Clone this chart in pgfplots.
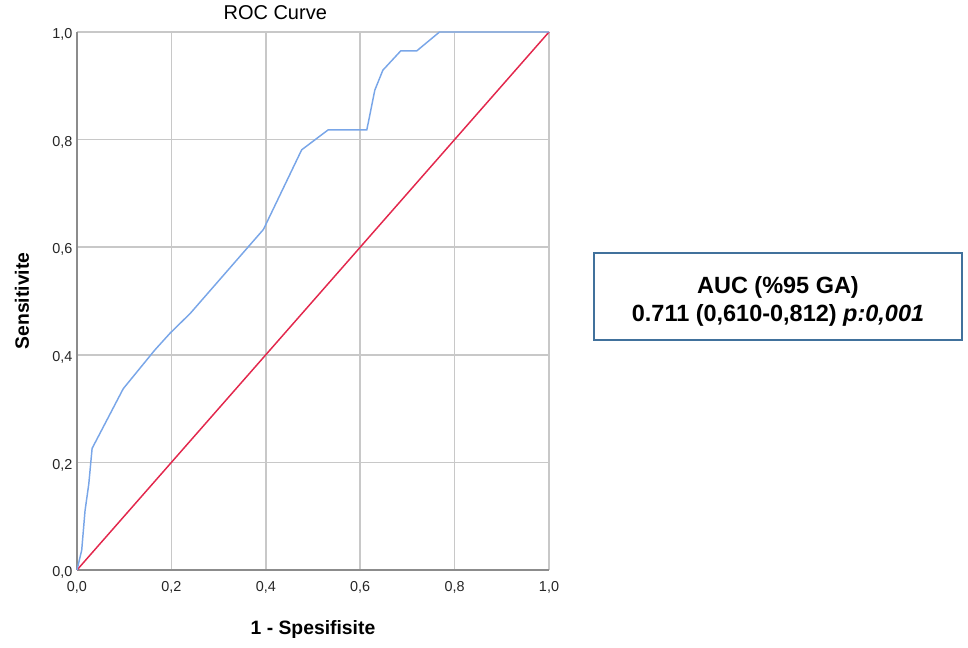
\documentclass[border=0pt]{standalone}
\usepackage{pgfplots}
\pgfplotsset{compat=1.18}
\usepackage{fontspec}
\setmainfont{Liberation Sans}
\definecolor{roccurve}{RGB}{121,166,232}
\definecolor{refline}{RGB}{226,39,76}
\definecolor{gridgray}{RGB}{200,200,200}
\definecolor{axisgray}{RGB}{140,140,140}
\definecolor{boxblue}{RGB}{65,113,156}
\begin{document}
\begin{tikzpicture}
\useasboundingbox (0,0) rectangle (726pt,486pt);
\begin{axis}[
  at={(57.75pt,58.5pt)}, anchor=south west,
  scale only axis, width=354pt, height=403.5pt,
  xmin=0, xmax=1, ymin=0, ymax=1,
  xtick={0,0.2,0.4,0.6,0.8,1}, ytick={0,0.2,0.4,0.6,0.8,1},
  major tick length=0pt,
  grid=major,
  major grid style={gridgray, line width=1.1pt},
  axis x line*=bottom, axis y line*=left,
  axis line style={axisgray, line width=1.1pt, -},
  /pgf/number format/assume math mode=true,
  /pgf/number format/.cd, fixed, fixed zerofill, precision=1, use comma,
  /pgfplots/.cd,
  ticklabel style={font=\fontsize{10.8pt}{12pt}\selectfont, text=black!85},
  xticklabel style={yshift=-5pt},
  yticklabel style={yshift=-2pt},
  title={ROC Curve},
  title style={at={(axis description cs:0.42,1.022)}, anchor=center, font=\fontsize{15pt}{18pt}\selectfont},
  xlabel={1 - Spesifisite},
  xlabel style={at={(axis description cs:0.5,-0.11)}, anchor=center, font=\bfseries\fontsize{14.5pt}{17pt}\selectfont},
  ylabel={Sensitivite},
  ylabel style={at={(axis description cs:-0.1165,0.5)}, anchor=center, font=\bfseries\fontsize{14.5pt}{17pt}\selectfont},
  clip=false,
]
\addplot[refline, line width=1.1pt] coordinates {(0,0) (1,1)};
\addplot[roccurve, line width=1.1pt] coordinates {
(0,0) (0.01,0.037) (0.017,0.11) (0.025,0.16) (0.032,0.226) (0.098,0.337)
(0.165,0.409) (0.197,0.44) (0.24,0.477) (0.395,0.633) (0.476,0.781)
(0.532,0.818) (0.614,0.818) (0.631,0.892) (0.648,0.929) (0.686,0.965)
(0.72,0.965) (0.768,1) (1,1)};
\end{axis}
\draw[boxblue, line width=1.6pt] (445.5pt,231pt) rectangle (721.5pt,296.25pt);
\node[align=center, inner sep=0pt, font=\bfseries\fontsize{17.6pt}{21pt}\selectfont]
  at (583.5pt,259.85pt) {AUC (\%95 GA)\\0.711 (0,610-0,812) \textit{p:0,001}};
\end{tikzpicture}
\end{document}
